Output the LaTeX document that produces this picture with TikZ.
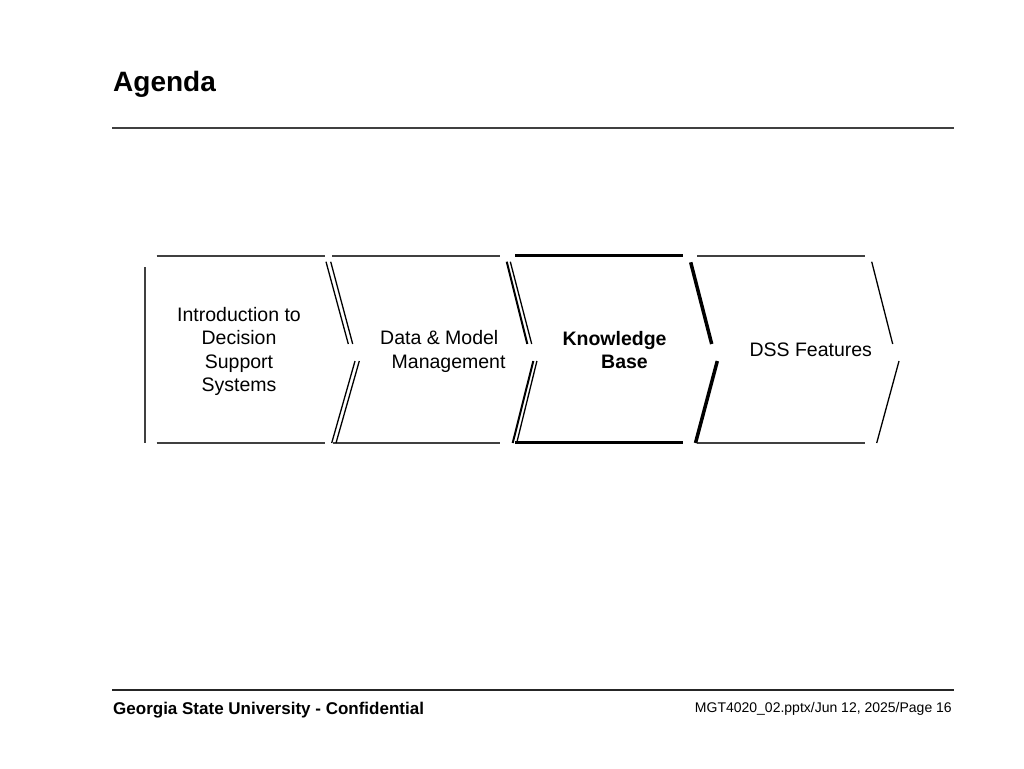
\documentclass[tikz,border=0pt]{standalone}
\usepackage{fontspec}
\setmainfont{Liberation Sans}
\definecolor{rulegray}{HTML}{404040}
\begin{document}
\begin{tikzpicture}[x=1pt,y=-1pt,
  txt/.style={inner sep=0pt,anchor=base west,font=\fontsize{19.5}{23.6}\selectfont},
  btxt/.style={txt,font=\fontsize{19.5}{23.6}\selectfont\bfseries},
  hl/.style={draw=rulegray,line width=2pt},
  hlk/.style={draw=black,line width=2.8pt},
  thin/.style={draw=black,line width=1.3pt},
  thick/.style={draw=black,line width=2pt},
  fat/.style={draw=black,line width=3.5pt}]
\useasboundingbox[fill=white] (0,0) rectangle (1024,768);
% title and rules
\node[inner sep=0pt,anchor=base west,font=\fontsize{28}{32}\selectfont\bfseries] (title) at (113,91.7) {Agenda};
\draw[draw=rulegray,line width=2pt] (112,128) -- (954,128);
\draw[draw=black!85,line width=1.5pt] (112,690) -- (954,690);
\node[inner sep=0pt,anchor=base west,font=\fontsize{17}{20}\selectfont\bfseries] (foot) at (113,714) {Georgia State University - Confidential};
\node[inner sep=0pt,anchor=base east,font=\fontsize{14}{17}\selectfont] (page) at (952,712) {MGT4020\_02.pptx/Jun 12, 2025/Page 16};
% horizontal segments
\draw[hl] (156.7,255.7) -- (325,255.7);
\draw[hl] (332.3,255.7) -- (500,255.7);
\draw[hlk] (515,255.7) -- (682.7,255.7);
\draw[hl] (697.3,255.7) -- (865,255.7);
\draw[hl] (156.7,443) -- (325,443);
\draw[hl] (333,443) -- (500,443);
\draw[hlk] (515,442.7) -- (682.7,442.7);
\draw[hl] (697.3,443) -- (865,443);
% left edge
\draw[draw=rulegray,line width=1.7pt] (145,267.3) -- (145,442.7);
% chevron 1 (double)
\draw[thin] (326,261.7) -- (348.3,344);
\draw[thin] (330.7,261.7) -- (352.7,344);
\draw[thin] (355,361) -- (331.7,443);
\draw[thin] (359.3,361) -- (336,443);
% chevron 2 (double, heavier)
\draw[thick] (506.7,261.7) -- (527.3,344);
\draw[thin] (510.3,261.7) -- (531.7,344);
\draw[thick] (533.3,361) -- (512.7,443);
\draw[thin] (536.9,361) -- (516.7,443);
% chevron 3 (heavy)
\draw[fat] (690.7,262.3) -- (711.7,344);
\draw[fat] (717.3,361) -- (695.5,443);
% chevron 4 (single)
\draw[thin] (871.7,261.7) -- (892.7,344);
\draw[thin] (899,361) -- (876.7,443);
% labels
\node[txt,anchor=base] (i1) at (239,321) {Introduction to};
\node[txt,anchor=base] (i2) at (239,344.5) {Decision};
\node[txt,anchor=base] (i3) at (239,368.2) {Support};
\node[txt,anchor=base] (i4) at (239,391.8) {Systems};
\node[txt] (d1) at (380,344.5) {Data \& Model};
\node[txt] (d2) at (391.5,368.2) {Management};
\node[btxt] (k1) at (562.3,345) {Knowledge};
\node[btxt] (k2) at (601,368.4) {Base};
\node[txt] (f1) at (749.3,356.7) {DSS Features};
\end{tikzpicture}
\end{document}
